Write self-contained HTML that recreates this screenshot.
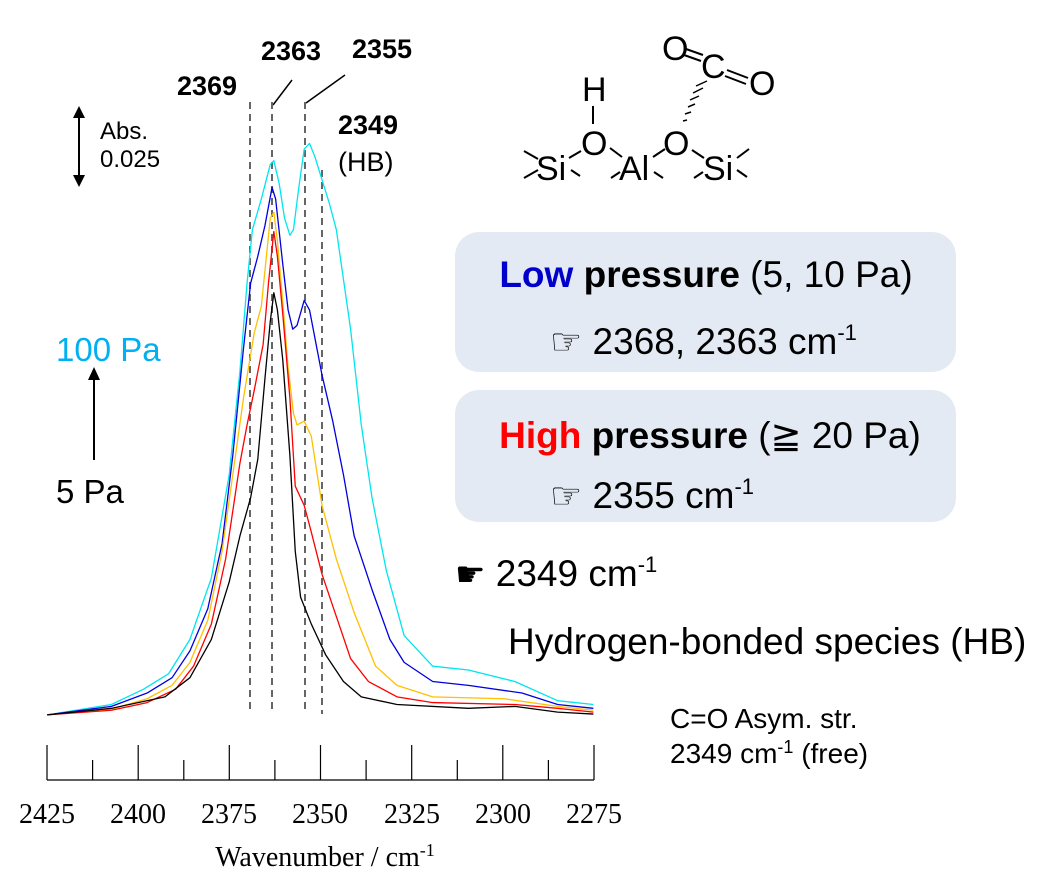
<!DOCTYPE html>
<html><head><meta charset="utf-8"><style>
html,body{margin:0;padding:0;background:#fff;}
svg{display:block;}
.s{font-family:"Liberation Sans",sans-serif;}
.r{font-family:"Liberation Serif",serif;}
</style></head><body>
<svg width="1055" height="890" viewBox="0 0 1055 890" xmlns="http://www.w3.org/2000/svg">
<!-- boxes -->
<rect x="455" y="232" width="501" height="140" rx="24" fill="#e4eaf4"/>
<rect x="455" y="390" width="501" height="132" rx="24" fill="#e4eaf4"/>
<text class="s" x="706" y="287" font-size="37" text-anchor="middle"><tspan fill="#0000cc" font-weight="bold">Low</tspan> <tspan font-weight="bold">pressure</tspan> (5, 10 Pa)</text>
<text class="s" x="550" y="354" font-size="37"><tspan font-family="DejaVu Sans" font-size="36">☞</tspan> 2368, 2363 cm<tspan font-size="22" dy="-14">-1</tspan></text>
<text class="s" x="710" y="448" font-size="37" text-anchor="middle"><tspan fill="#ff0000" font-weight="bold">High</tspan> <tspan font-weight="bold">pressure</tspan> (≧ 20 Pa)</text>
<text class="s" x="550" y="508" font-size="37"><tspan font-family="DejaVu Sans" font-size="36">☞</tspan> 2355 cm<tspan font-size="22" dy="-14">-1</tspan></text>
<text class="s" x="455" y="586" font-size="37"><tspan font-family="DejaVu Sans" font-size="34">☛</tspan> 2349 cm<tspan font-size="22" dy="-14">-1</tspan></text>
<text class="s" x="508" y="654" font-size="37">Hydrogen-bonded species (HB)</text>
<text class="s" x="670" y="728" font-size="28">C=O Asym. str.</text>
<text class="s" x="670" y="763" font-size="28">2349 cm<tspan font-size="18" dy="-10">-1</tspan><tspan dy="10"> (free)</tspan></text>
<!-- molecule -->
<g class="s" font-size="34" fill="#000">
<text x="582" y="101">H</text>
<text x="581" y="155">O</text>
<text x="536" y="180">Si</text>
<text x="619" y="180">Al</text>
<text x="663" y="155">O</text>
<text x="703" y="180">Si</text>
<text x="662" y="60">O</text>
<text x="701" y="78">C</text>
<text x="749" y="95">O</text>
</g>
<g stroke="#000" stroke-width="2" fill="none">
<line x1="593" y1="106" x2="593" y2="124"/>
<line x1="524" y1="151" x2="538" y2="159"/><line x1="524" y1="178" x2="538" y2="170"/>
<line x1="569" y1="158" x2="581" y2="151"/><line x1="571" y1="170" x2="580" y2="176"/>
<line x1="610" y1="148" x2="622" y2="157"/><line x1="611" y1="178" x2="620" y2="172"/>
<line x1="654" y1="172" x2="663" y2="178"/><line x1="653" y1="157" x2="665" y2="149"/>
<line x1="692" y1="150" x2="704" y2="158"/><line x1="694" y1="178" x2="703" y2="172"/>
<line x1="737" y1="158" x2="749" y2="149"/><line x1="737" y1="170" x2="747" y2="177"/>
<line x1="686" y1="49" x2="703" y2="55"/><line x1="684" y1="55" x2="701" y2="61"/>
<line x1="727" y1="70" x2="748" y2="78"/><line x1="725" y1="76" x2="746" y2="84"/>
</g>
<g stroke="#000" stroke-width="1.5">
<line x1="683" y1="121" x2="687" y2="120"/><line x1="685" y1="114" x2="691" y2="112"/>
<line x1="688" y1="107" x2="695" y2="104"/><line x1="690" y1="100" x2="699" y2="96"/>
<line x1="693" y1="93" x2="703" y2="88"/><line x1="696" y1="86" x2="707" y2="81"/>
</g>
<!-- labels -->
<g class="s" font-size="27" font-weight="bold">
<text x="177" y="95">2369</text><text x="261" y="60">2363</text>
<text x="352" y="58">2355</text><text x="338" y="134">2349</text>
</g>
<text class="s" x="338" y="171" font-size="27">(HB)</text>
<line x1="273" y1="105" x2="292" y2="80" stroke="#000" stroke-width="1.5"/>
<line x1="306" y1="103" x2="345" y2="75" stroke="#000" stroke-width="1.5"/>
<text class="s" x="100" y="139" font-size="24">Abs.</text>
<text class="s" x="100" y="167" font-size="24">0.025</text>
<line x1="79" y1="115" x2="79" y2="175" stroke="#000" stroke-width="2"/>
<polygon points="79,106 73,118 85,118"/><polygon points="79,187 73,175 85,175"/>
<text class="s" x="56" y="361" font-size="33" fill="#00b0f0">100 Pa</text>
<line x1="94" y1="378" x2="94" y2="460" stroke="#000" stroke-width="2"/>
<polygon points="94,367 88,380 100,380"/>
<text class="s" x="56" y="503" font-size="33">5 Pa</text>
<!-- dashed -->
<g stroke="#666" stroke-width="2" stroke-dasharray="7,5">
<line x1="250" y1="102" x2="250" y2="714"/><line x1="272" y1="102" x2="272" y2="714"/>
<line x1="305" y1="102" x2="305" y2="714"/><line x1="322" y1="170" x2="322" y2="714"/>
</g>
<!-- curves -->
<g transform="translate(40,130) scale(0.357,0.383)" fill="none" stroke-linejoin="round">
<polyline vector-effect="non-scaling-stroke" stroke-width="1.3" stroke="#00e5ee" points="20,1527 200,1500 290,1460 360,1420 420,1330 480,1170 530,900 560,630 580,400 595,260 620,180 645,90 655,80 670,140 685,230 700,275 710,260 725,150 740,50 755,35 770,70 790,130 810,190 830,260 870,520 900,770 930,960 970,1150 1020,1320 1100,1400 1200,1410 1330,1440 1450,1490 1550,1500"/>
<polyline vector-effect="non-scaling-stroke" stroke-width="1.3" stroke="#0000e0" points="20,1527 200,1505 300,1470 370,1430 420,1360 470,1250 510,1080 540,850 570,570 590,400 610,330 630,250 650,150 660,180 680,350 695,470 708,520 720,510 740,445 755,470 790,640 820,760 850,900 880,1060 930,1200 980,1330 1020,1390 1100,1440 1200,1450 1350,1470 1450,1500 1550,1510"/>
<polyline vector-effect="non-scaling-stroke" stroke-width="1.3" stroke="#ffc000" points="20,1527 200,1512 300,1485 370,1450 420,1390 470,1280 510,1100 540,900 570,700 600,530 620,460 645,230 655,215 665,290 680,450 695,620 710,740 720,770 740,760 760,800 790,980 830,1120 880,1260 940,1400 1000,1450 1100,1480 1300,1485 1450,1505 1550,1515"/>
<polyline vector-effect="non-scaling-stroke" stroke-width="1.3" stroke="#ff0000" points="20,1527 200,1515 300,1495 380,1460 430,1400 480,1290 520,1120 560,870 580,770 600,680 625,560 640,400 655,265 665,330 680,480 700,700 715,930 740,980 760,1050 790,1160 830,1270 870,1380 920,1440 1000,1480 1100,1495 1330,1500 1450,1510 1550,1520"/>
<polyline vector-effect="non-scaling-stroke" stroke-width="1.3" stroke="#000" points="20,1527 200,1510 350,1480 420,1430 480,1330 530,1180 560,1060 590,960 610,860 630,650 645,500 655,425 665,470 680,600 700,850 715,1100 730,1220 760,1290 800,1370 850,1440 900,1480 1000,1500 1200,1510 1330,1505 1450,1520 1550,1525"/>
</g>
<!-- axis -->
<g stroke="#000" stroke-width="1.2">
<line x1="47" y1="780" x2="594" y2="780"/>
<line x1="47" y1="745" x2="47" y2="780"/><line x1="92.6" y1="760" x2="92.6" y2="780"/>
<line x1="138.2" y1="745" x2="138.2" y2="780"/><line x1="183.8" y1="760" x2="183.8" y2="780"/>
<line x1="229.3" y1="745" x2="229.3" y2="780"/><line x1="274.9" y1="760" x2="274.9" y2="780"/>
<line x1="320.5" y1="745" x2="320.5" y2="780"/><line x1="366.1" y1="760" x2="366.1" y2="780"/>
<line x1="411.7" y1="745" x2="411.7" y2="780"/><line x1="457.3" y1="760" x2="457.3" y2="780"/>
<line x1="502.8" y1="745" x2="502.8" y2="780"/><line x1="548.4" y1="760" x2="548.4" y2="780"/>
<line x1="594" y1="745" x2="594" y2="780"/>
</g>
<g class="r" font-size="28" text-anchor="middle">
<text x="47" y="823">2425</text><text x="138" y="823">2400</text><text x="229" y="823">2375</text>
<text x="320" y="823">2350</text><text x="412" y="823">2325</text><text x="503" y="823">2300</text><text x="594" y="823">2275</text>
<text x="325" y="866">Wavenumber / cm<tspan font-size="18" dy="-10">-1</tspan></text>
</g>
</svg>
</body></html>
